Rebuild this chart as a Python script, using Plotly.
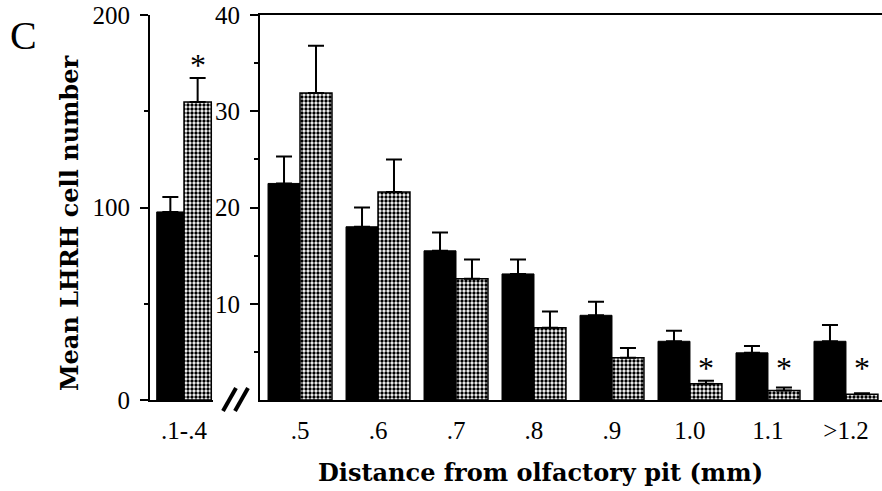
import plotly.graph_objects as go

W, H = 882, 491

left_cat = ['.1-.4']
left_black = [97.7]
left_black_err = [7.8]
left_check = [154.8]
left_check_err = [12.5]
left_sig = [True]

right_cats = ['.5', '.6', '.7', '.8', '.9', '1.0', '1.1', '>1.2']
right_black = [22.5, 18.0, 15.5, 13.1, 8.8, 6.1, 4.9, 6.1]
right_black_err = [2.8, 2.0, 1.9, 1.5, 1.4, 1.1, 0.7, 1.7]
right_check = [31.9, 21.6, 12.6, 7.5, 4.4, 1.7, 1.0, 0.6]
right_check_err = [4.9, 3.4, 2.0, 1.7, 1.0, 0.3, 0.3, 0.1]
right_sig = [False, False, False, False, False, True, True, True]

left_ticks = [0, 100, 200]
right_ticks = [10, 20, 30, 40]

FONT = 'Liberation Serif'
TFONT = 'DejaVu Serif'
pattern = dict(shape='.', size=4, solidity=0.55, fgcolor='black', bgcolor='white', fillmode='replace')


def px(x):
    return x / W


def py(y):
    return 1 - y / H


def err(vals):
    return dict(type='data', array=vals, arrayminus=[0] * len(vals), symmetric=False,
                color='black', thickness=2, width=8, visible=True)


wl, wr = 0.35, 0.41
fig = go.Figure()
fig.add_trace(go.Bar(x=left_cat, y=left_black, width=wl, offset=-wl, xaxis='x', yaxis='y',
                     marker=dict(color='black', line=dict(color='black', width=1)),
                     error_y=err(left_black_err)))
fig.add_trace(go.Bar(x=left_cat, y=left_check, width=wl, offset=0, xaxis='x', yaxis='y',
                     marker=dict(color='white', pattern=pattern, line=dict(color='black', width=1.5)),
                     error_y=err(left_check_err)))
fig.add_trace(go.Bar(x=right_cats, y=right_black, width=wr, offset=-wr, xaxis='x2', yaxis='y2',
                     marker=dict(color='black', line=dict(color='black', width=1)),
                     error_y=err(right_black_err)))
fig.add_trace(go.Bar(x=right_cats, y=right_check, width=wr, offset=0, xaxis='x2', yaxis='y2',
                     marker=dict(color='white', pattern=pattern, line=dict(color='black', width=1.5)),
                     error_y=err(right_check_err)))

ydom = [py(400), py(15)]
tickfont = dict(family=FONT, size=25, color='black')
common_y = dict(showline=True, linecolor='black', linewidth=2, ticks='outside', ticklen=8,
                tickwidth=2, tickcolor='black', showgrid=False, zeroline=False, tickfont=tickfont,
                automargin=False, ticklabelstandoff=5)
common_x = dict(type='category', showline=True, linecolor='black', linewidth=2, ticks='',
                showgrid=False, zeroline=False, tickfont=tickfont, ticklabelstandoff=7,
                automargin=False)

fig.update_layout(
    width=W, height=H, margin=dict(l=0, r=0, t=0, b=0, autoexpand=False),
    paper_bgcolor='white', plot_bgcolor='white', showlegend=False, barmode='overlay',
    font=dict(family=FONT, color='black'),
    xaxis=dict(domain=[px(150), px(213)], range=[-0.436, 0.372], anchor='y', **common_x),
    xaxis2=dict(domain=[px(260), 1.0], range=[-0.513, 7.462], anchor='y2', mirror=True, **common_x),
    yaxis=dict(domain=ydom, range=[0, 200], anchor='x', tickvals=left_ticks,
               minor=dict(tickvals=[50, 150], ticks='outside', ticklen=4, tickwidth=2, tickcolor='black'),
               **common_y),
    yaxis2=dict(domain=ydom, range=[0, 40], anchor='x2', tickvals=right_ticks,
                minor=dict(tickvals=[5, 15, 25, 35], ticks='outside', ticklen=4, tickwidth=2, tickcolor='black'),
                **common_y),
)

ann = []
for i, s in enumerate(left_sig):
    if s:
        ann.append(dict(x=i + wl / 2, y=174, xref='x', yref='y', text='*', showarrow=False,
                        font=dict(family=FONT, size=32, color='black'), xanchor='center', yanchor='middle'))
for i, s in enumerate(right_sig):
    if s:
        ann.append(dict(x=i + wr / 2, y=3.3, xref='x2', yref='y2', text='*', showarrow=False,
                        font=dict(family=FONT, size=32, color='black'), xanchor='center', yanchor='middle'))
ann.append(dict(x=px(23), y=py(35), xref='paper', yref='paper', text='C', showarrow=False,
                xanchor='center', yanchor='middle', font=dict(family=FONT, size=40, color='black')))
ann.append(dict(x=px(69), y=py(223), xref='paper', yref='paper', text='<b>Mean LHRH cell number</b>',
                showarrow=False, textangle=-90, xanchor='center', yanchor='middle',
                font=dict(family=TFONT, size=24, color='black')))
ann.append(dict(x=px(540), y=py(472), xref='paper', yref='paper',
                text='<b>Distance from olfactory pit (mm)</b>', showarrow=False,
                xanchor='center', yanchor='middle', font=dict(family=TFONT, size=24, color='black')))
fig.update_layout(annotations=ann)

# axis break marks
for x0 in (223, 235):
    fig.add_shape(type='line', xref='paper', yref='paper', x0=px(x0), y0=py(411), x1=px(x0 + 13), y1=py(388),
                  line=dict(color='black', width=4))

fig.write_html('out.html')
